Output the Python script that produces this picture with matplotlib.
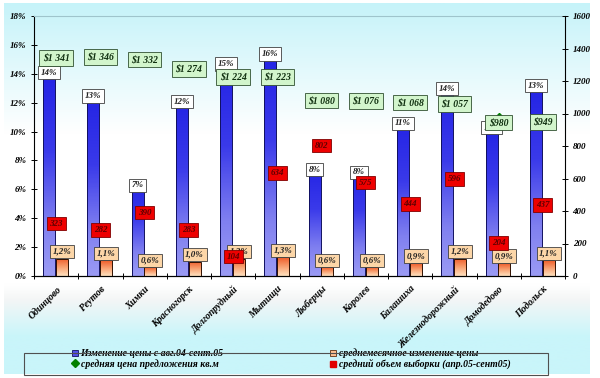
import numpy as np
import matplotlib.pyplot as plt
from matplotlib.colors import LinearSegmentedColormap
from matplotlib.lines import Line2D
from matplotlib.patches import Rectangle

# data
cities = ['Одинцово', 'Реутов', 'Химки', 'Красногорск', 'Долгопрудный', 'Мытищи',
          'Люберцы', 'Королев', 'Балашиха', 'Железнодорожный', 'Домодедово', 'Подольск']
change = [14.4, 12.8, 6.6, 12.4, 15.0, 15.7, 7.7, 7.5, 10.9, 13.3, 10.6, 13.5]
change_lbl = ['14%', '13%', '7%', '12%', '15%', '16%', '8%', '8%', '11%', '14%', '11%', '13%']
monthly = [1.2, 1.1, 0.6, 1.0, 1.2, 1.3, 0.6, 0.6, 0.9, 1.2, 0.9, 1.1]
monthly_lbl = ['1,2%', '1,1%', '0,6%', '1,0%', '1,2%', '1,3%', '0,6%', '0,6%', '0,9%', '1,2%', '0,9%', '1,1%']
price = [1341, 1346, 1332, 1274, 1224, 1223, 1080, 1076, 1068, 1057, 980, 949]
price_lbl = ['\\$1 341', '\\$1 346', '\\$1 332', '\\$1 274', '\\$1 224', '\\$1 223',
             '\\$1 080', '\\$1 076', '\\$1 068', '\\$1 057', '\\$980', '\\$949']
volume = [323, 282, 390, 283, 104, 634, 802, 575, 444, 596, 204, 437]

plt.rcParams['font.family'] = ['Liberation Serif', 'DejaVu Serif']
plt.rcParams['font.weight'] = 'bold'
plt.rcParams['font.style'] = 'italic'

fig = plt.figure(figsize=(6, 3.78), dpi=100)
fig.patch.set_facecolor('white')

# background gradient (cyan - white - cyan)
bg = fig.add_axes([4/600, 4/378, 586/600, 371/378], zorder=-5)
stops = [(0.0, '#c6f3f9'), (0.35, '#ffffff'), (0.76, '#ffffff'), (0.80, '#f4f6f6'),
         (0.9, '#c9f5fa'), (1.0, '#c9f5fa')]
bgcmap = LinearSegmentedColormap.from_list('bg', stops)
bg.imshow(np.linspace(0, 1, 256).reshape(-1, 1), aspect='auto', cmap=bgcmap, extent=[0, 1, 0, 1])
bg.axis('off')

ax = fig.add_axes([34/600, 1 - 276/378, 531/600, 260/378])
ax.patch.set_alpha(0)
x = np.arange(len(cities))
w = 0.27
xb = x - 0.16
xo = x + 0.13

blue_cmap = LinearSegmentedColormap.from_list('b', [(0, '#2222e4'), (0.4, '#3a3aea'), (0.75, '#8080f0'), (1, '#9a9af4')])
orange_cmap = LinearSegmentedColormap.from_list('o', [(0, '#ee5a28'), (0.5, '#f8a070'), (1, '#ffe2c0')])
grad = np.linspace(0, 1, 100).reshape(-1, 1)

bars = ax.bar(xb, change, w, color='none', edgecolor='#101060', lw=0.7, zorder=3)
for b in bars:
    im = ax.imshow(grad, cmap=blue_cmap, aspect='auto', zorder=2,
                   extent=[b.get_x(), b.get_x() + w, 0, b.get_height()])
    im.set_clip_path(b)
    ax.plot([b.get_x(), b.get_x() + w], [b.get_height()] * 2, color='#000050', lw=2, zorder=3,
            solid_capstyle='butt')
obars = ax.bar(xo, monthly, w, color='none', edgecolor='#301000', lw=0.7, zorder=3)
for b in obars:
    im = ax.imshow(grad, cmap=orange_cmap, aspect='auto', zorder=2,
                   extent=[b.get_x(), b.get_x() + w, 0, b.get_height()])
    im.set_clip_path(b)

for i in range(len(cities)):
    ax.text(xb[i], change[i] - 0.05, change_lbl[i], ha='center', va='top', fontsize=6.5, zorder=5,
            color='#202020', bbox=dict(boxstyle='square,pad=0.3', fc='white', ec='#404040', lw=0.6))
    ax.text(xo[i], monthly[i] + 0.2, monthly_lbl[i], ha='center', va='bottom', fontsize=6.5, zorder=5,
            color='#202020', bbox=dict(boxstyle='square,pad=0.3', fc='#fcd6a8', ec='#404040', lw=0.6))

ax.set_xlim(-0.5, 11.5)
ax.set_ylim(0, 18)
ax.set_yticks(np.arange(0, 19, 2))
ax.set_yticklabels(['%d%%' % v for v in range(0, 19, 2)], fontsize=6.5)
ax.set_xticks(x)
ax.set_xticklabels(cities, rotation=45, ha='right', rotation_mode='anchor', fontsize=7)
ax.tick_params(axis='x', length=0, pad=6)
ax.set_xticks(np.arange(-0.5, 12, 1), minor=True)
ax.tick_params(axis='x', which='minor', direction='inout', length=5, width=0.7)
ax.tick_params(axis='y', direction='inout', length=5, width=0.7, pad=3)
ax.spines['top'].set_color('#9fc4cc')
ax.spines['right'].set_visible(False)

ax2 = ax.twinx()
ax2.set_ylim(0, 1600)
ax2.set_yticks(np.arange(0, 1601, 200))
ax2.set_yticklabels([str(v) for v in range(0, 1601, 200)], fontsize=6.5)
ax2.tick_params(axis='y', direction='inout', length=5, width=0.7, pad=3)
ax2.spines['top'].set_visible(False)
ax2.spines['left'].set_visible(False)

ax2.plot(x, price, ls='none', marker='D', ms=4, color='#008000', zorder=3)
ax2.plot(x, volume, ls='none', marker='s', ms=5, color='#e00000', zorder=3)
price_off = [0] * 12
price_off[10] = -35
vol_off = [0] * 12
vol_off[4] = 15
for i in range(len(cities)):
    ax2.text(x[i], price[i] + price_off[i], price_lbl[i], ha='center', va='center', fontsize=7, zorder=6,
             color='#103010', bbox=dict(boxstyle='square,pad=0.35', fc='#d2f5cc', ec='#305030', lw=0.6))
    ax2.text(x[i], volume[i] + vol_off[i], str(volume[i]), ha='center', va='center', fontsize=6.5, zorder=7,
             color='#600000', bbox=dict(boxstyle='square,pad=0.3', fc='#ee0000', ec='#800000', lw=0.6))

# legend
fig.patches.append(Rectangle((24/600, 3/378), 524/600, 22/378, transform=fig.transFigure,
                             fc='none', ec='#505050', lw=0.8, zorder=10))
handles = [
    Line2D([], [], ls='none', marker='s', ms=5, mfc='#5050e8', mec='#101060', mew=0.6),
    Line2D([], [], ls='none', marker='D', ms=4, color='#008000'),
    Line2D([], [], ls='none', marker='s', ms=5, mfc='#fcc090', mec='#603010', mew=0.6),
    Line2D([], [], ls='none', marker='s', ms=5, color='#e00000'),
]
labels = ['Изменение цены с авг.04-сент.05', 'средняя цена предложения кв.м',
          'среднемесячное изменение цены', 'средний объем выборки (апр.05-сент05)']
fig.legend(handles, labels, ncol=2, loc='lower left', bbox_to_anchor=(64/600, 1/378),
           frameon=False, fontsize=7, handlelength=0.6, handletextpad=0.3,
           columnspacing=11.0, labelspacing=0.05, borderpad=0.3)

fig.savefig('out.png', dpi=100)
